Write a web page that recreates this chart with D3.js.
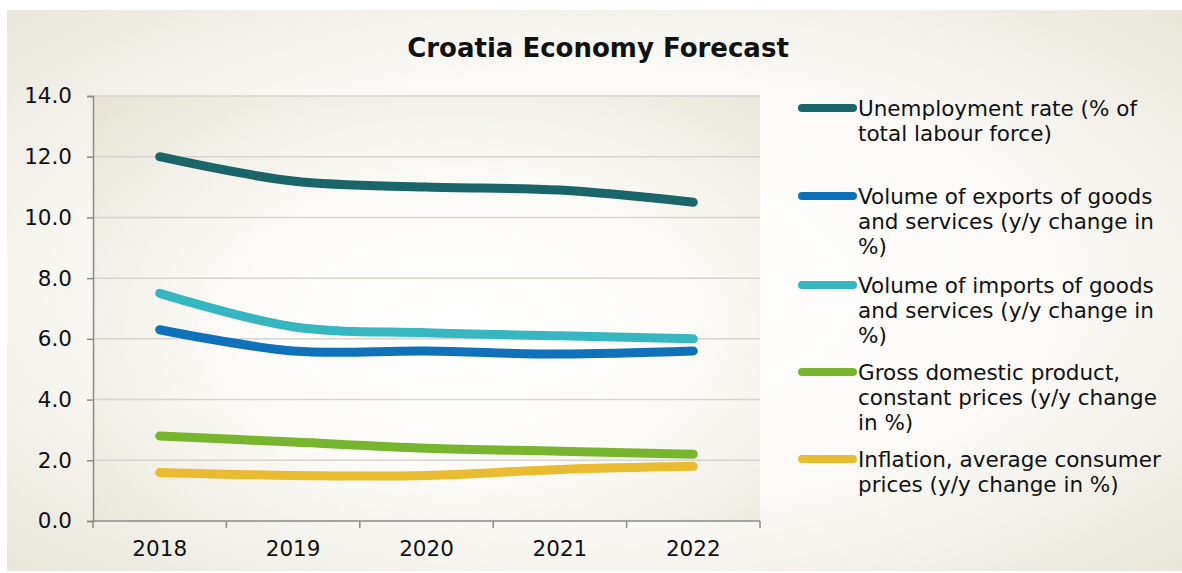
<!DOCTYPE html>
<html>
<head>
<meta charset="utf-8">
<script src="https://cdn.jsdelivr.net/npm/d3@7"></script>
<style>
  body { margin: 0; background: #fff; }
  svg text { font-family: Verdana, "DejaVu Sans", sans-serif; fill: #111; }
</style>
</head>
<body>
<div id="chart"></div>
<script>
const years = ["2018", "2019", "2020", "2021", "2022"];
const unemployment = [12.0, 11.2, 11.0, 10.9, 10.5];
const exportsVol = [6.3, 5.6, 5.6, 5.5, 5.6];
const importsVol = [7.5, 6.4, 6.2, 6.1, 6.0];
const gdp = [2.8, 2.6, 2.4, 2.3, 2.2];
const inflation = [1.6, 1.5, 1.5, 1.7, 1.8];
const yTicks = [0, 2, 4, 6, 8, 10, 12, 14];

const seriesNames = [
    ["Unemployment rate (% of", "total labour force)"],
    ["Volume of exports of goods", "and services (y/y change in", "%)"],
    ["Volume of imports of goods", "and services (y/y change in", "%)"],
    ["Gross domestic product,", "constant prices (y/y change", "in %)"],
    ["Inflation, average consumer", "prices (y/y change in %)"]
];
const seriesColors = ["#1a6569", "#0f71b9", "#35b6c1", "#77b52e", "#e9bb31"];
const seriesValues = [unemployment, exportsVol, importsVol, gdp, inflation];

const chart = {
    width: 1182,
    height: 573,
    fontSize: "21.5px",
    margin: { left: 93, top: 96, right: 422, bottom: 52 },
    plot: function() {
        const _self = chart;
        const w = _self.width, h = _self.height, m = _self.margin;

        const svg = d3.select("#chart")
            .append("svg")
            .attr("width", w)
            .attr("height", h);

        const defs = svg.append("defs");
        const outerGrad = defs.append("radialGradient")
            .attr("id", "outerGrad")
            .attr("cx", "50%").attr("cy", "50%").attr("r", "70%");
        outerGrad.append("stop").attr("offset", "0%").attr("stop-color", "#ffffff");
        outerGrad.append("stop").attr("offset", "55%").attr("stop-color", "#fbfaf7");
        outerGrad.append("stop").attr("offset", "100%").attr("stop-color", "#e9e6da");

        const plotGrad = defs.append("radialGradient")
            .attr("id", "plotGrad")
            .attr("cx", "55%").attr("cy", "55%").attr("r", "75%");
        plotGrad.append("stop").attr("offset", "0%").attr("stop-color", "#ffffff");
        plotGrad.append("stop").attr("offset", "45%").attr("stop-color", "#fcfbf8");
        plotGrad.append("stop").attr("offset", "100%").attr("stop-color", "#e8e5d8");

        // Outer background.
        svg.append("rect")
            .attr("x", 7)
            .attr("y", 10)
            .attr("width", w - 7)
            .attr("height", h - 12)
            .style("fill", "url(#outerGrad)");

        const x = d3.scaleBand()
            .domain(years)
            .range([m.left, w - m.right]);

        const y = d3.scaleLinear()
            .domain([0, 14])
            .range([h - m.bottom, m.top]);

        // Plot area background.
        svg.append("rect")
            .attr("x", m.left)
            .attr("y", m.top)
            .attr("width", w - m.right - m.left)
            .attr("height", h - m.bottom - m.top)
            .style("fill", "url(#plotGrad)");

        // Grid lines.
        svg.append("g")
            .selectAll("line")
            .data(yTicks.slice(1))
            .enter()
            .append("line")
            .attr("x1", m.left)
            .attr("x2", w - m.right)
            .attr("y1", (d) => y(d))
            .attr("y2", (d) => y(d))
            .style("stroke", "#d6d4ce")
            .style("stroke-width", 1.5);

        // Y axis.
        const yAxis = svg.append("g")
            .attr("transform", `translate(${m.left},0)`)
            .call(d3.axisLeft(y).tickValues(yTicks).tickFormat(d3.format(".1f")).tickSize(6).tickPadding(15));
        yAxis.select(".domain").style("stroke", "#8a8a8a").style("stroke-width", 1.5);
        yAxis.selectAll(".tick line").style("stroke", "#8a8a8a").style("stroke-width", 1.5);
        yAxis.selectAll("text").style("font-size", _self.fontSize).style("fill", "#111");

        // X axis with ticks at category boundaries.
        const xAxis = svg.append("g")
            .attr("transform", `translate(0,${h - m.bottom})`)
            .call(d3.axisBottom(x).tickSize(0).tickPadding(20));
        xAxis.select(".domain").remove();
        xAxis.selectAll("text").style("font-size", _self.fontSize).style("fill", "#111");
        xAxis.append("line")
            .attr("x1", m.left).attr("x2", w - m.right)
            .style("stroke", "#8a8a8a").style("stroke-width", 1.5);
        xAxis.selectAll("line.boundary")
            .data(years.concat(["end"]))
            .enter()
            .append("line")
            .attr("class", "boundary")
            .attr("x1", (d, i) => m.left + i * x.step())
            .attr("x2", (d, i) => m.left + i * x.step())
            .attr("y1", 0)
            .attr("y2", 7)
            .style("stroke", "#8a8a8a")
            .style("stroke-width", 1.5);

        // Series lines.
        const line = d3.line()
            .x((d, i) => x(years[i]) + x.bandwidth() / 2)
            .y((d) => y(d))
            .curve(d3.curveCatmullRom.alpha(0.5));

        svg.append("g")
            .selectAll("path")
            .data(seriesValues)
            .enter()
            .append("path")
            .attr("d", (d) => line(d))
            .style("fill", "none")
            .style("stroke", (d, i) => seriesColors[i])
            .style("stroke-width", 9)
            .style("stroke-linecap", "round")
            .style("stroke-linejoin", "round");

        // Title.
        svg.append("text")
            .text("Croatia Economy Forecast")
            .attr("x", 598)
            .attr("y", 57)
            .attr("text-anchor", "middle")
            .style("font-size", "26px")
            .style("font-weight", "bold");

        // Legend.
        const legendY = [108, 196, 285, 372, 459];
        const legend = svg.append("g")
            .selectAll("g")
            .data(seriesNames)
            .enter()
            .append("g")
            .attr("transform", (d, i) => `translate(0,${legendY[i]})`);

        legend.append("line")
            .attr("x1", 802)
            .attr("x2", 853)
            .attr("y1", 0)
            .attr("y2", 0)
            .style("stroke", (d, i) => seriesColors[i])
            .style("stroke-width", 8)
            .style("stroke-linecap", "round");

        legend.each(function(d) {
            const t = d3.select(this).append("text")
                .attr("x", 858)
                .attr("y", 0)
                .style("font-size", _self.fontSize);
            d.forEach((s, j) => {
                t.append("tspan")
                    .attr("x", 858)
                    .attr("y", j * 25 + 8)
                    .text(s);
            });
        });
    }
};

chart.plot();
</script>
</body>
</html>
